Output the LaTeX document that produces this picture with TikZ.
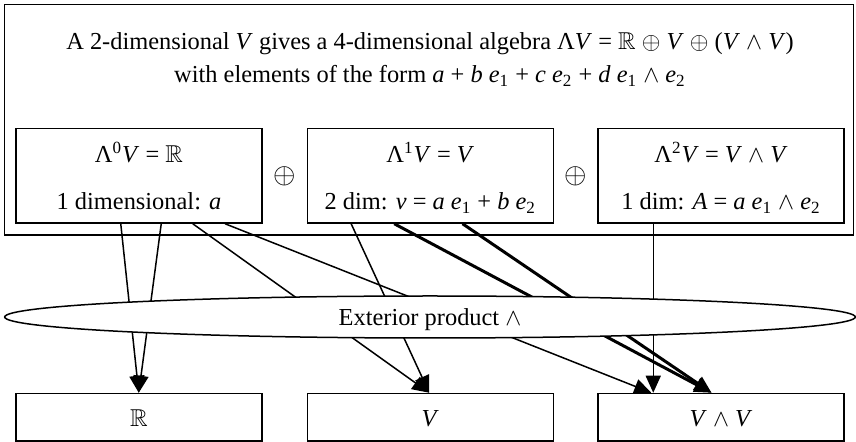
\documentclass[tikz,border=0pt]{standalone}
\usepackage{amssymb}
\usepackage{fontspec}
\setmainfont{Liberation Serif}
\usetikzlibrary{shapes.geometric,arrows.meta,calc}
\newcommand\myE[1]{\textit{e}\textsubscript{#1}}
\newcommand\myW{$\wedge$}
\newcommand\myR{$\mathbb{R}$}
\newcommand\myO{$\oplus$}
\begin{document}
\begin{tikzpicture}[x=0.5pt,y=-0.5pt,
  every node/.style={font=\fontsize{12.2}{14.6}\selectfont},
  box/.style={draw,line width=0.75pt,minimum width=123pt,minimum height=47.25pt,inner sep=0pt},
  rbox/.style={draw,line width=0.75pt,minimum width=123pt,minimum height=23.75pt,inner sep=0pt},
  lbl/.style={anchor=base,inner sep=0pt},
  plus/.style={font=\fontsize{14.5}{16}\selectfont,inner sep=0pt},
  edge/.style={line width=0.75pt,-{Triangle[length=8.5pt,width=7.5pt]}},
  thickedge/.style={edge,line width=1.5pt}]
\useasboundingbox (0,0) rectangle (856,442);
% outer box
\node[draw,line width=0.75pt,minimum width=424.5pt,minimum height=115.15pt,inner sep=0pt] (outer) at (429.2,119.85) {};
\node[lbl] (t1) at (430,50) {A 2-dimensional \textit{V} gives a 4-dimensional algebra Λ\textit{V} = \myR{} \myO{} \textit{V} \myO{} (\textit{V} \myW{} \textit{V})};
\node[lbl] (t2) at (430,83) {with elements of the form \textit{a} + \textit{b} \myE{1} + \textit{c} \myE{2} + \textit{d} \myE{1} \myW{} \myE{2}};
% inner boxes
\node[box] (b0) at (139,175.75) {};
\node[box] (b1) at (430.3,175.75) {};
\node[box] (b2) at (721,175.75) {};
\node[lbl] (b0a) at (139,162.5) {Λ\textsuperscript{0}\textit{V} = \myR};
\node[lbl] (b0b) at (139,209.5) {1 dimensional: \textit{a}};
\node[lbl] (b1a) at (430.3,162.5) {Λ\textsuperscript{1}\textit{V} = \textit{V}};
\node[lbl] (b1b) at (430.3,209.5) {2 dim: \textit{v} = \textit{a} \myE{1} + \textit{b} \myE{2}};
\node[lbl] (b2a) at (721,162.5) {Λ\textsuperscript{2}\textit{V} = \textit{V} \myW{} \textit{V}};
\node[lbl] (b2b) at (721,209.5) {1 dim: \textit{A} = \textit{a} \myE{1} \myW{} \myE{2}};
\node[plus] (p1) at (285,176) {\myO};
\node[plus] (p2) at (575.5,176) {\myO};
% bottom boxes
\node[rbox] (r0) at (139,417.25) {};
\node[rbox] (r1) at (430.3,417.25) {};
\node[rbox] (r2) at (721,417.25) {};
\node[lbl] (r0t) at (139,427) {\myR};
\node[lbl] (r1t) at (430.3,427) {\textit{V}};
\node[lbl] (r2t) at (721,427) {\textit{V} \myW{} \textit{V}};
% edges
\draw[edge] ($(b0.south west)+(105.5,0)$) -- ($(r0.north west)+(123.5,0)$);
\draw[edge] ($(b0.south west)+(146,0)$) -- ($(r0.north west)+(123.5,0)$);
\draw[edge] ($(b0.south west)+(177.5,0)$) -- ($(r1.north west)+(122.7,0)$);
\draw[edge] ($(b0.south west)+(209.8,0)$) -- ($(r2.north west)+(54,0)$);
\draw[edge] ($(b1.south west)+(44.6,0)$) -- ($(r1.north west)+(122.7,0)$);
\draw[thickedge] ($(b1.south west)+(87.7,0)$) -- ($(r2.north west)+(114.3,0)$);
\draw[thickedge] ($(b1.south west)+(156,0)$) -- ($(r2.north west)+(114.3,0)$);
\draw[edge] ($(b2.south west)+(56,0)$) -- ($(r2.north west)+(56,0)$);
% exterior product ellipse
\node[ellipse,draw,fill=white,line width=0.75pt,minimum width=425.3pt,minimum height=21pt,inner sep=0pt] (ext) at (430,317) {};
\node[lbl] (extl) at ($(ext.center)+(0,9)$) {Exterior product \myW};
\end{tikzpicture}
\end{document}
